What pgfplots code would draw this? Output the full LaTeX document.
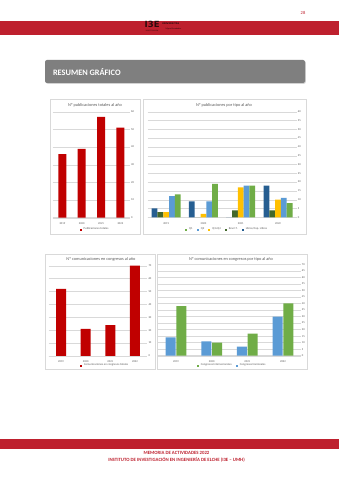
\documentclass[border=0pt]{standalone}
\usepackage{fontspec}
\setmainfont{Carlito}
\newfontfamily\logofont{DejaVu Sans}
\usepackage{pgfplots}
\pgfplotsset{compat=1.18}
\definecolor{hdrred}{RGB}{190,32,46}
\definecolor{barred}{RGB}{192,0,0}
\definecolor{cQone}{RGB}{112,173,71}
\definecolor{cQtwo}{RGB}{91,155,213}
\definecolor{cQthree}{RGB}{255,192,0}
\definecolor{cRev}{RGB}{67,104,43}
\definecolor{cLib}{RGB}{38,94,145}
\definecolor{gridc}{RGB}{217,217,217}
\definecolor{labc}{RGB}{89,89,89}
\definecolor{boxgray}{RGB}{127,127,127}
\definecolor{logoc}{RGB}{45,10,12}

\pgfplotsset{
 sq/.style={legend image code/.code={\fill[##1] (0pt,-1.1pt) rectangle (2.2pt,1.1pt);}},
 exc/.style={
  scale only axis,
  anchor=south west,
  axis x line*=bottom,
  axis y line*=right,
  x axis line style={draw=gridc, line width=0.4pt},
  y axis line style={draw=none},
  ymin=0,
  xmin=-0.5, xmax=3.5,
  xtick={0,1,2,3},
  xticklabels={2019,2020,2021,2022},
  major tick style={draw=none},
  ymajorgrids,
  major grid style={draw=gridc, line width=0.35pt},
  tick label style={font=\fontsize{2.8}{3}\selectfont, text=labc},
  /pgf/number format/assume math mode=true,
  xticklabel style={inner sep=0.6pt},
  yticklabel style={inner sep=1pt, anchor=west},
  legend style={draw=none, fill=none, font=\fontsize{2.9}{3}\selectfont, text=labc, legend columns=-1, anchor=center, /tikz/every even column/.append style={column sep=2pt}, inner sep=0pt},
 }
}

\begin{document}
\begin{tikzpicture}[x=1pt,y=1pt]
% page
\fill[white] (0,0) rectangle (339,480);
% page number
\node[text=hdrred, font=\fontsize{4.5}{5}\selectfont] at (303,467) {28};
% header band
\fill[hdrred] (0,444.7) rectangle (339,459.3);
\node[text=logoc, inner sep=0pt, anchor=west] at (144.5,451.6) {%
  \begin{tabular}{@{}l@{\hspace{2.5pt}}l@{}}
  \shortstack{{\logofont\bfseries\fontsize{8.5}{8.5}\selectfont I3E}\\[-0.6pt]{\logofont\fontsize{1.6}{1.8}\selectfont INVESTIGACIÓN}} &
  \raisebox{2pt}{\shortstack[l]{{\logofont\bfseries\fontsize{2.3}{2.5}\selectfont UNIVERSITAS}\\[0.4pt]\hspace*{3.5pt}{\fontsize{2.1}{2.3}\selectfont\itshape Miguel Hernández}}}
  \end{tabular}};
% section box
\fill[gray!35, rounded corners=2pt] (45.8,396.2) rectangle (305.8,419.2);
\fill[boxgray, rounded corners=2pt] (45,397) rectangle (305,420);
\node[anchor=west, text=white, font=\bfseries\fontsize{8.3}{9}\selectfont] at (49.5,408.3) {RESUMEN GRÁFICO};
% chart frames
\draw[gridc, line width=0.4pt] (50,246) rectangle (140,381);
\draw[gridc, line width=0.4pt] (143,246) rectangle (306,381);
\draw[gridc, line width=0.4pt] (45,111) rectangle (155,226);
\draw[gridc, line width=0.4pt] (157,111) rectangle (307,226);
% titles
\node[text=labc, font=\fontsize{4.3}{5}\selectfont] at (95,375) {Nº publicaciones totales al año};
\node[text=labc, font=\fontsize{4.3}{5}\selectfont] at (224,375) {Nº publicaciones por tipo al año};
\node[text=labc, font=\fontsize{4.3}{5}\selectfont] at (101,220.7) {Nº comunicaciones en congresos al año};
\node[text=labc, font=\fontsize{4.3}{5}\selectfont] at (231,220.5) {Nº comunicaciones en congresos por tipo al año};

% chart 1
\begin{axis}[exc, at={(52.7pt,262.3pt)}, width=77.3pt, height=106pt,
  ymax=60, ytick={0,10,...,60}, ybar, bar width=8pt,
  legend style={at={(0.547,-0.113)}}]
\addplot[fill=barred, draw=none, sq] coordinates {(0,36) (1,39) (2,57) (3,51)};
\addlegendentry{Publicaciones totales}
\end{axis}

% chart 2
\begin{axis}[exc, at={(147.5pt,262.7pt)}, width=149.2pt, height=105.6pt,
  ymax=60, ytick={0,5,...,60}, ybar=0pt, bar width=5.8pt, reverse legend,
  legend style={at={(0.533,-0.117)}}]
\addplot[fill=cLib, draw=none, sq] coordinates {(0,5) (1,9) (2,0) (3,18)};
\addlegendentry{Libros/Cap. Libros}
\addplot[fill=cRev, draw=none, sq] coordinates {(0,3) (1,0) (2,4) (3,4)};
\addlegendentry{Rev.C.T.}
\addplot[fill=cQthree, draw=none, sq] coordinates {(0,3) (1,2) (2,17) (3,10)};
\addlegendentry{Q3+Q4}
\addplot[fill=cQtwo, draw=none, sq] coordinates {(0,12) (1,9) (2,18) (3,11)};
\addlegendentry{Q2}
\addplot[fill=cQone, draw=none, sq] coordinates {(0,13) (1,19) (2,18) (3,8)};
\addlegendentry{Q1}
\end{axis}

% chart 3
\begin{axis}[exc, at={(48.7pt,124pt)}, width=98.6pt, height=90.3pt,
  ymax=70, ytick={0,10,...,70}, ybar, bar width=10pt,
  legend style={at={(0.571,-0.107)}}]
\addplot[fill=barred, draw=none, sq] coordinates {(0,52) (1,21) (2,24) (3,70)};
\addlegendentry{Comunicaciones en congresos totales}
\end{axis}

% chart 4
\begin{axis}[exc, at={(158.2pt,124.3pt)}, width=142.6pt, height=91.4pt,
  ymax=70, ytick={0,5,...,70}, ybar=0.7pt, bar width=10pt, reverse legend,
  legend style={at={(0.518,-0.109)}}]
\addplot[fill=cQtwo, draw=none, sq] coordinates {(0,14) (1,11) (2,7) (3,30)};
\addlegendentry{Congresos Nacionales}
\addplot[fill=cQone, draw=none, sq] coordinates {(0,38) (1,10) (2,17) (3,40)};
\addlegendentry{Congresos Internacionales}
\end{axis}

% footer
\fill[hdrred] (0,31.3) rectangle (339,40.7);
\node[text=hdrred, font=\bfseries\fontsize{4.8}{5}\selectfont, inner sep=0pt] at (176.5,26.7) {MEMORIA DE ACTIVIDADES 2022};
\node[text=hdrred, font=\bfseries\fontsize{4.8}{5}\selectfont, inner sep=0pt] at (176.5,19.7) {INSTITUTO DE INVESTIGACIÓN EN INGENIERÍA DE ELCHE (I3E – UMH)};
\end{tikzpicture}
\end{document}
